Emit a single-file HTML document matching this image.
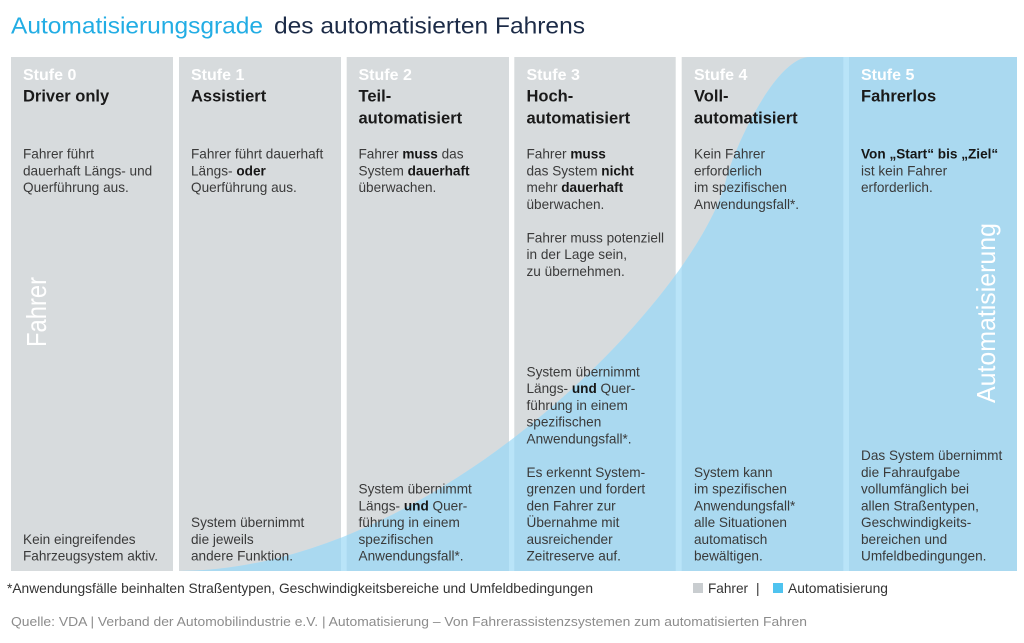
<!DOCTYPE html>
<html>
<head>
<meta charset="utf-8">
<style>
html,body{margin:0;padding:0;background:#fff;}
svg{display:block;}
text{font-family:"Liberation Sans",sans-serif;}
.t{font-size:13.6px;fill:#3a3a3a;}
.b{font-weight:bold;fill:#161616;}
.st{font-size:16px;font-weight:bold;fill:#ffffff;}
.h{font-size:16.5px;font-weight:bold;fill:#1a1a1a;}
</style>
</head>
<body>
<svg width="1024" height="643" viewBox="0 0 1024 643" xmlns="http://www.w3.org/2000/svg">
<defs>
<clipPath id="cols">
<rect x="11" y="57" width="162" height="514"/>
<rect x="179" y="57" width="162" height="514"/>
<rect x="346.7" y="57" width="162.3" height="514"/>
<rect x="514.3" y="57" width="161.4" height="514"/>
<rect x="681.7" y="57" width="161.6" height="514"/>
<rect x="849" y="57" width="168" height="514"/>
</clipPath>
</defs>
<rect width="1024" height="643" fill="#fff"/>
<!-- title -->
<text x="11" y="33.3" font-size="23" fill="#22ade4" textLength="252" lengthAdjust="spacingAndGlyphs">Automatisierungsgrade</text>
<text x="274" y="33.3" font-size="23" fill="#1c2b47" textLength="311" lengthAdjust="spacingAndGlyphs">des automatisierten Fahrens</text>

<!-- columns -->
<g fill="#d7dbdd">
<rect x="11" y="57" width="162" height="514"/>
<rect x="179" y="57" width="162" height="514"/>
<rect x="346.7" y="57" width="162.3" height="514"/>
<rect x="514.3" y="57" width="161.4" height="514"/>
<rect x="681.7" y="57" width="161.6" height="514"/>
<rect x="849" y="57" width="168" height="514"/>
</g>
<path d="M179,571 C440,570 700,290 726,180 C733.5,150 775,57 810,57 L1017,57 L1017,571 Z" fill="#b9e4f8"/>
<path d="M179,571 C440,570 700,290 726,180 C733.5,150 775,57 810,57 L1017,57 L1017,571 Z" fill="#aad9f0" clip-path="url(#cols)"/>

<!-- vertical labels -->
<text transform="translate(46,347) rotate(-90)" font-size="28" fill="#ffffff" textLength="70" lengthAdjust="spacingAndGlyphs">Fahrer</text>
<text transform="translate(995,403) rotate(-90)" font-size="26" fill="#ffffff" textLength="180" lengthAdjust="spacingAndGlyphs">Automatisierung</text>

<!-- col 0 -->
<text class="st" x="23" y="80">Stufe 0</text>
<text class="h" x="23" y="101.7">Driver only</text>
<text class="t" x="23" y="158.5">Fahrer führt</text>
<text class="t" x="23" y="175.25">dauerhaft Längs- und</text>
<text class="t" x="23" y="192">Querführung aus.</text>
<text class="t" x="23" y="543.75">Kein eingreifendes</text>
<text class="t" x="23" y="560.5">Fahrzeugsystem aktiv.</text>

<!-- col 1 -->
<text class="st" x="191" y="80">Stufe 1</text>
<text class="h" x="191" y="101.7">Assistiert</text>
<text class="t" x="191" y="158.5">Fahrer führt dauerhaft</text>
<text class="t" x="191" y="175.25">Längs- <tspan class="b">oder</tspan></text>
<text class="t" x="191" y="192">Querführung aus.</text>
<text class="t" x="191" y="527">System übernimmt</text>
<text class="t" x="191" y="543.75">die jeweils</text>
<text class="t" x="191" y="560.5">andere Funktion.</text>

<!-- col 2 -->
<text class="st" x="358.5" y="80">Stufe 2</text>
<text class="h" x="358.5" y="101.7">Teil-</text>
<text class="h" x="358.5" y="123.3">automatisiert</text>
<text class="t" x="358.5" y="158.5">Fahrer <tspan class="b">muss</tspan> das</text>
<text class="t" x="358.5" y="175.25">System <tspan class="b">dauerhaft</tspan></text>
<text class="t" x="358.5" y="192">überwachen.</text>
<text class="t" x="358.5" y="493.5">System übernimmt</text>
<text class="t" x="358.5" y="510.25">Längs- <tspan class="b">und</tspan> Quer-</text>
<text class="t" x="358.5" y="527">führung in einem</text>
<text class="t" x="358.5" y="543.75">spezifischen</text>
<text class="t" x="358.5" y="560.5">Anwendungsfall*.</text>

<!-- col 3 -->
<text class="st" x="526.5" y="80">Stufe 3</text>
<text class="h" x="526.5" y="101.7">Hoch-</text>
<text class="h" x="526.5" y="123.3">automatisiert</text>
<text class="t" x="526.5" y="158.5">Fahrer <tspan class="b">muss</tspan></text>
<text class="t" x="526.5" y="175.25">das System <tspan class="b">nicht</tspan></text>
<text class="t" x="526.5" y="192">mehr <tspan class="b">dauerhaft</tspan></text>
<text class="t" x="526.5" y="208.75">überwachen.</text>
<text class="t" x="526.5" y="242.25">Fahrer muss potenziell</text>
<text class="t" x="526.5" y="259">in der Lage sein,</text>
<text class="t" x="526.5" y="275.75">zu übernehmen.</text>
<text class="t" x="526.5" y="376.25">System übernimmt</text>
<text class="t" x="526.5" y="393">Längs- <tspan class="b">und</tspan> Quer-</text>
<text class="t" x="526.5" y="409.75">führung in einem</text>
<text class="t" x="526.5" y="426.5">spezifischen</text>
<text class="t" x="526.5" y="443.25">Anwendungsfall*.</text>
<text class="t" x="526.5" y="476.75">Es erkennt System-</text>
<text class="t" x="526.5" y="493.5">grenzen und fordert</text>
<text class="t" x="526.5" y="510.25">den Fahrer zur</text>
<text class="t" x="526.5" y="527">Übernahme mit</text>
<text class="t" x="526.5" y="543.75">ausreichender</text>
<text class="t" x="526.5" y="560.5">Zeitreserve auf.</text>

<!-- col 4 -->
<text class="st" x="694" y="80">Stufe 4</text>
<text class="h" x="694" y="101.7">Voll-</text>
<text class="h" x="694" y="123.3">automatisiert</text>
<text class="t" x="694" y="158.5">Kein Fahrer</text>
<text class="t" x="694" y="175.25">erforderlich</text>
<text class="t" x="694" y="192">im spezifischen</text>
<text class="t" x="694" y="208.75">Anwendungsfall*.</text>
<text class="t" x="694" y="476.75">System kann</text>
<text class="t" x="694" y="493.5">im spezifischen</text>
<text class="t" x="694" y="510.25">Anwendungsfall*</text>
<text class="t" x="694" y="527">alle Situationen</text>
<text class="t" x="694" y="543.75">automatisch</text>
<text class="t" x="694" y="560.5">bewältigen.</text>

<!-- col 5 -->
<text class="st" x="861" y="80">Stufe 5</text>
<text class="h" x="861" y="101.7">Fahrerlos</text>
<text class="t b" x="861" y="158.5">Von „Start“ bis „Ziel“</text>
<text class="t" x="861" y="175.25">ist kein Fahrer</text>
<text class="t" x="861" y="192">erforderlich.</text>
<text class="t" x="861" y="460">Das System übernimmt</text>
<text class="t" x="861" y="476.75">die Fahraufgabe</text>
<text class="t" x="861" y="493.5">vollumfänglich bei</text>
<text class="t" x="861" y="510.25">allen Straßentypen,</text>
<text class="t" x="861" y="527">Geschwindigkeits-</text>
<text class="t" x="861" y="543.75">bereichen und</text>
<text class="t" x="861" y="560.5">Umfeldbedingungen.</text>

<!-- footnote & legend -->
<text x="7" y="593" font-size="13.6" fill="#333" textLength="586" lengthAdjust="spacingAndGlyphs">*Anwendungsfälle beinhalten Straßentypen, Geschwindigkeitsbereiche und Umfeldbedingungen</text>
<rect x="693" y="583" width="10" height="10" fill="#c9cdd0"/>
<text x="708" y="593" font-size="13.6" fill="#333">Fahrer</text>
<text x="756" y="593" font-size="13.6" fill="#333">|</text>
<rect x="773" y="583" width="10" height="10" fill="#4fc3ef"/>
<text x="788" y="593" font-size="13.6" fill="#333" textLength="100" lengthAdjust="spacingAndGlyphs">Automatisierung</text>

<!-- source -->
<text x="11" y="626" font-size="13" fill="#8c8c8c" textLength="796" lengthAdjust="spacingAndGlyphs">Quelle: VDA  |  Verband der Automobilindustrie e.V.  |  Automatisierung – Von Fahrerassistenzsystemen zum automatisierten Fahren</text>
</svg>
</body>
</html>
